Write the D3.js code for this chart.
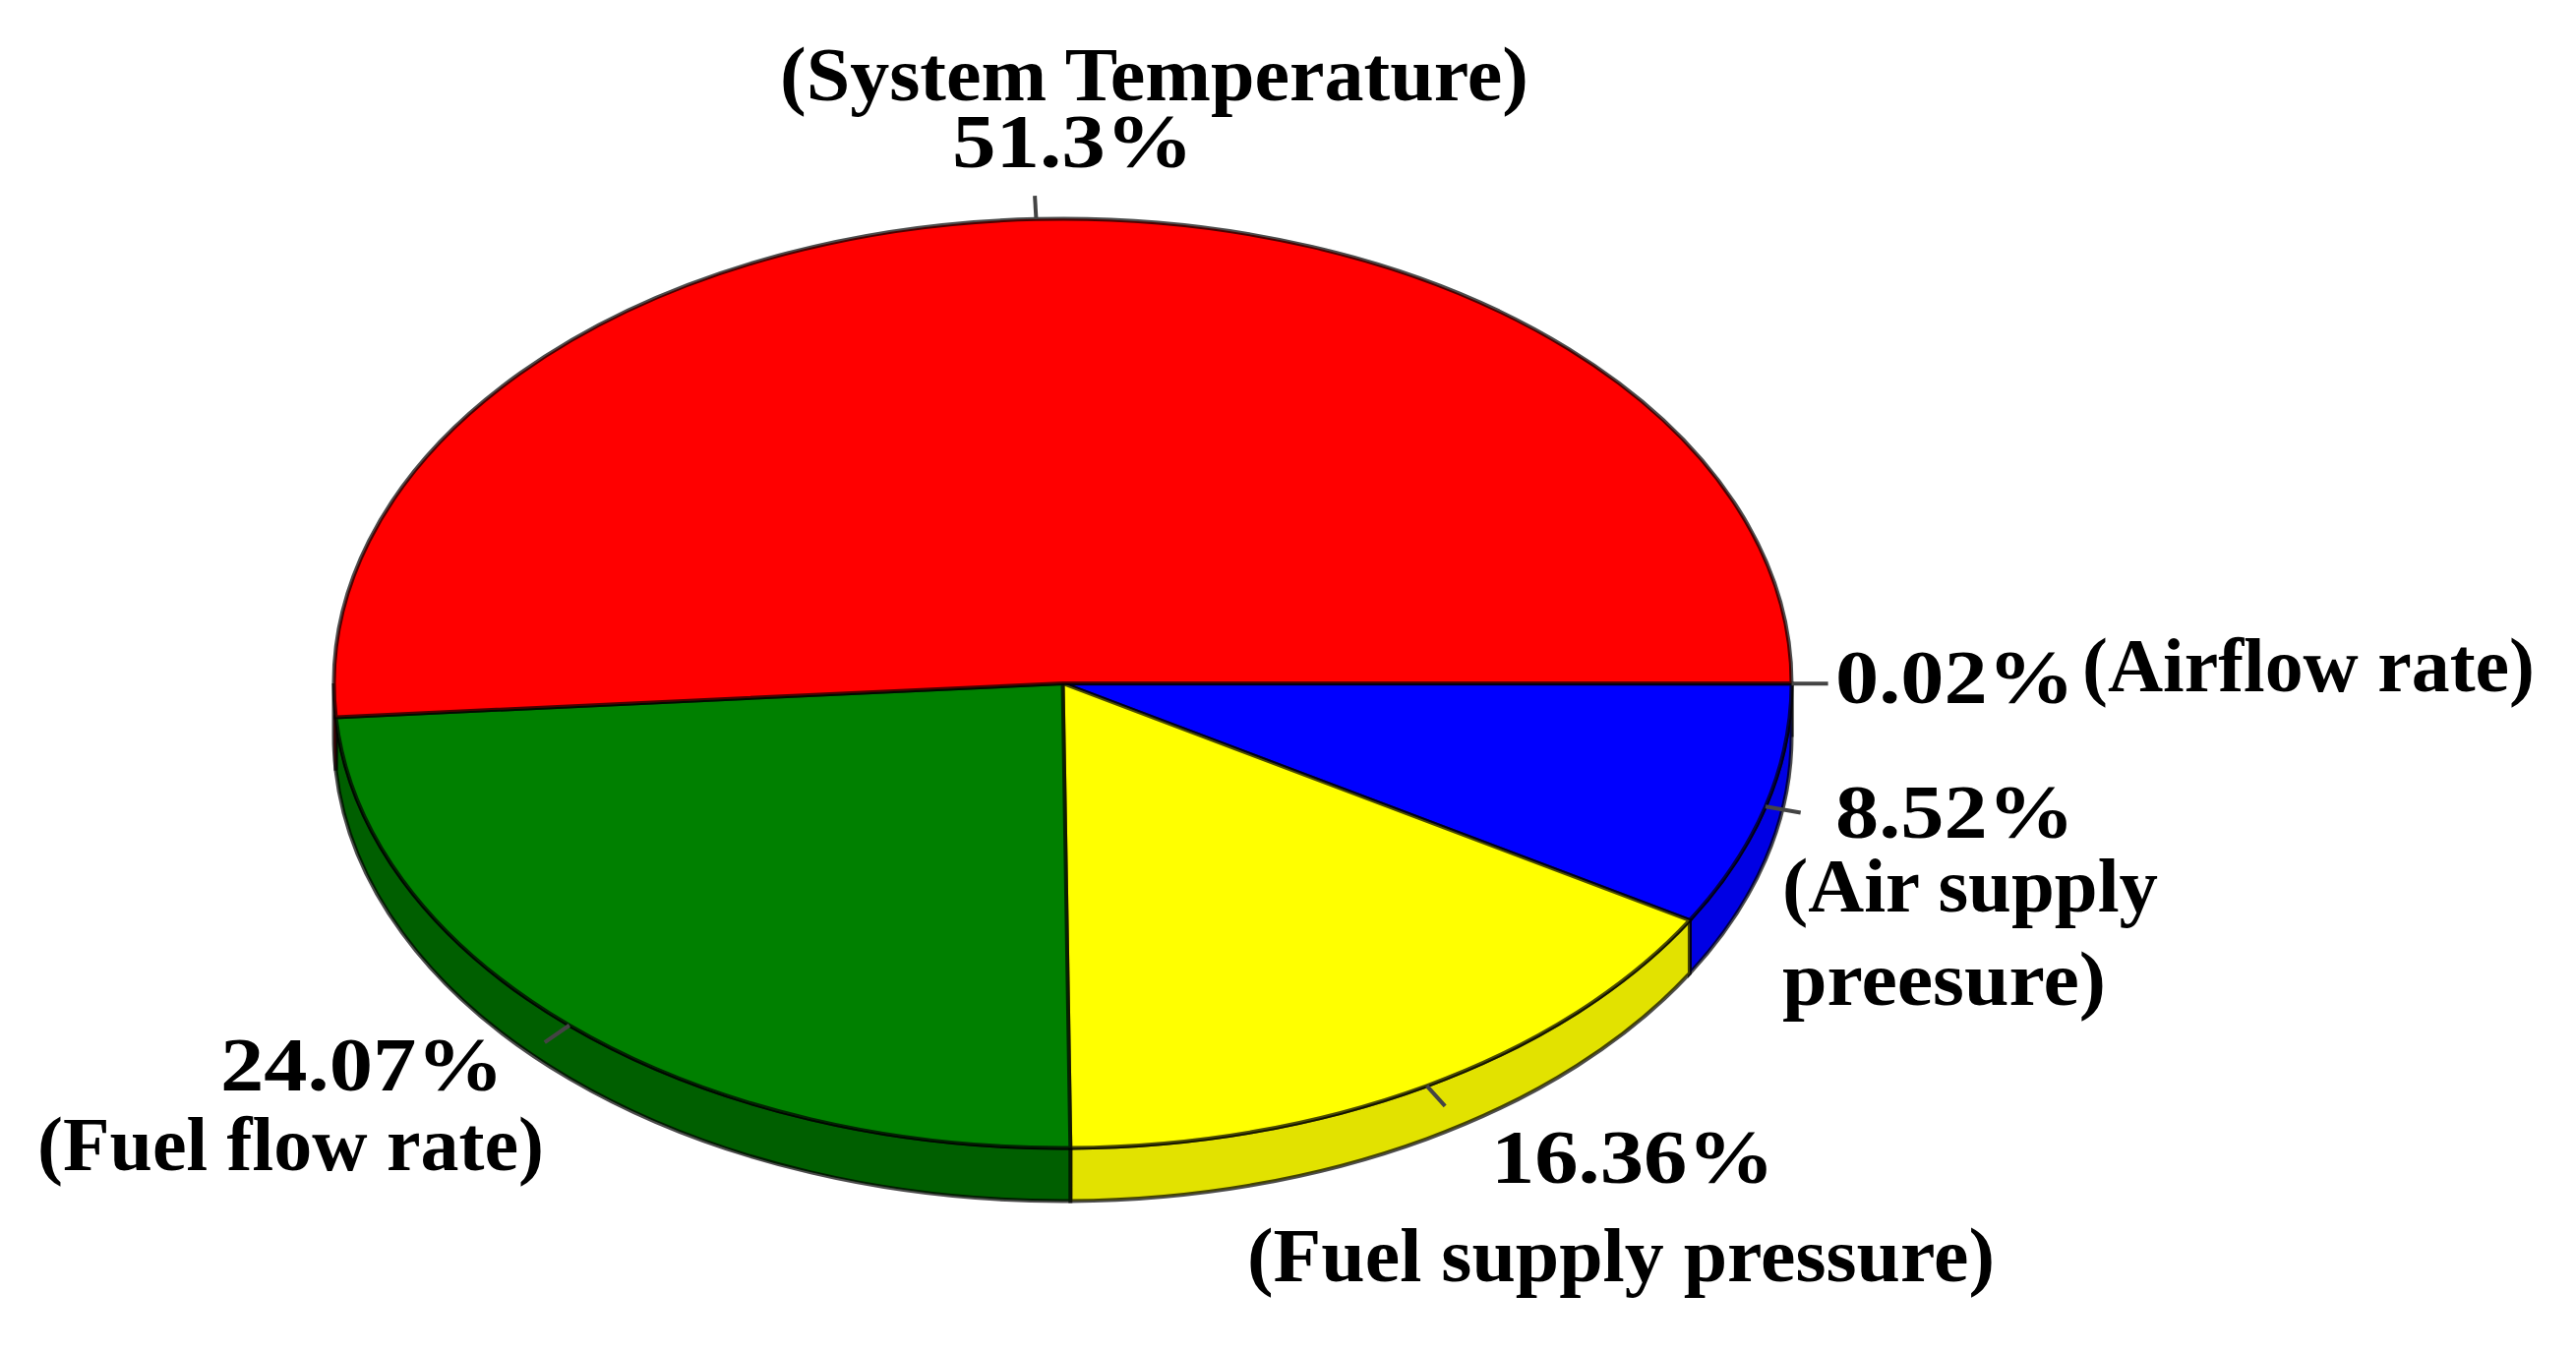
<!DOCTYPE html>
<html>
<head>
<meta charset="utf-8">
<script src="https://cdn.jsdelivr.net/npm/d3@7"></script>
<style>
  html, body { margin: 0; background: #fff; }
  svg { display: block; }
  text { font-family: "Liberation Serif", serif; font-weight: bold; fill: #000; }
</style>
</head>
<body>
<div class="container"></div>
<script>
var WIDTH = 2619;
var HEIGHT = 1375;

// slices, clockwise from the right hand edge of the pie
var categories = ['Airflow rate', 'Air supply pressure', 'Fuel supply pressure', 'Fuel flow rate', 'System Temperature'];
var values = [0.02, 8.52, 16.36, 24.07, 51.3];
var topColors = ['#00008b', '#0000ff', '#ffff00', '#008000', '#ff0000'];
var sideColors = ['#00008b', '#0000e4', '#e2e200', '#005f00', '#b00000'];

var labelTexts = ['(System Temperature)', '51.3%', '0.02%', '(Airflow rate)', '8.52%', '(Air supply', 'preesure)', '24.07%', '(Fuel flow rate)', '16.36%', '(Fuel supply pressure)'];
var labelX = [793, 968, 1866, 2117, 1866, 1812, 1812, 224, 38, 1516, 1268];
var labelY = [102, 170, 715, 703, 852, 927, 1022, 1109, 1190, 1203, 1303];
var labelW = [761, 245, 243, 460, 243, 382, 329, 288, 515, 288, 760];

var CX = 1080.5, CY = 695, R = 741, SQUASH = 472.5 / 741, DEPTH = 54;

var translate = function (x, y) {
  return 'translate(' + x + ',' + y + ')';
};

var loadChart = function () {
  var data = categories.map(function (c, i) {
    return { name: c, value: values[i], top: topColors[i], side: sideColors[i] };
  });

  var pie = d3.pie()
    .sort(null)
    .value(function (d) { return d.value; })
    .startAngle(Math.PI / 2)
    .endAngle(Math.PI / 2 + 2 * Math.PI);

  var arcs = pie(data);
  var arc = d3.arc().innerRadius(0).outerRadius(R);

  var svg = d3.select('.container').append('svg')
    .attr('width', WIDTH)
    .attr('height', HEIGHT);

  var chart = svg.append('g')
    .attr('transform', translate(CX, CY) + ' scale(1,' + SQUASH + ')');

  // rim: only the front half of the pie shows a side wall
  var sidePath = function (d) {
    var a0 = Math.max(d.startAngle, Math.PI / 2) - Math.PI / 2;
    var a1 = Math.min(d.endAngle, 3 * Math.PI / 2) - Math.PI / 2;
    var dy = DEPTH / SQUASH;
    var p = d3.path();
    p.arc(0, 0, R, a0, a1, false);
    p.arc(0, dy, R, a1, a0, true);
    p.closePath();
    return p.toString();
  };

  chart.selectAll('.side')
    .data(arcs.filter(function (d) { return d.startAngle < 3 * Math.PI / 2; }))
    .enter()
    .append('path')
    .attr('class', 'side')
    .attr('d', sidePath)
    .attr('fill', function (d) { return d.data.side; })
    .attr('stroke', '#000')
    .attr('stroke-opacity', 0.7)
    .attr('stroke-width', 4)
    .attr('vector-effect', 'non-scaling-stroke');

  chart.selectAll('.slice')
    .data(arcs)
    .enter()
    .append('path')
    .attr('class', 'slice')
    .attr('d', arc)
    .attr('fill', function (d) { return d.data.top; })
    .attr('stroke', '#000')
    .attr('stroke-opacity', 0.7)
    .attr('stroke-width', 4)
    .attr('vector-effect', 'non-scaling-stroke');

  // short leader from the middle of each slice
  chart.selectAll('.leader')
    .data(arcs)
    .enter()
    .append('line')
    .attr('class', 'leader')
    .attr('x1', function (d) { return R * Math.sin((d.startAngle + d.endAngle) / 2); })
    .attr('y1', function (d) { return -R * Math.cos((d.startAngle + d.endAngle) / 2); })
    .attr('x2', function (d) { return 1.05 * R * Math.sin((d.startAngle + d.endAngle) / 2); })
    .attr('y2', function (d) { return -1.05 * R * Math.cos((d.startAngle + d.endAngle) / 2); })
    .attr('stroke', '#444')
    .attr('stroke-width', 4)
    .attr('vector-effect', 'non-scaling-stroke');

  svg.selectAll('.label')
    .data(labelTexts)
    .enter()
    .append('text')
    .attr('class', 'label')
    .attr('x', function (d, i) { return labelX[i]; })
    .attr('y', function (d, i) { return labelY[i]; })
    .attr('textLength', function (d, i) { return labelW[i]; })
    .attr('lengthAdjust', 'spacingAndGlyphs')
    .attr('font-size', 78)
    .text(function (d) { return d; });
};

window.onload = loadChart;
</script>
</body>
</html>
